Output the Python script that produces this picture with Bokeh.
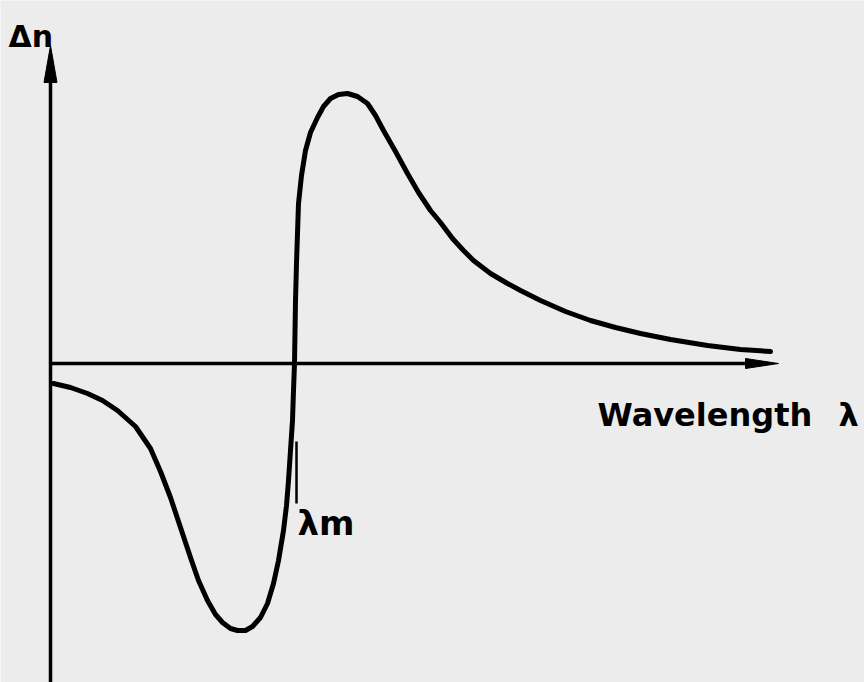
from bokeh.plotting import figure
from bokeh.models import Range1d
from bokeh.core.properties import value
from bokeh.embed import file_html
from bokeh.resources import INLINE

# Dispersion curve: refractive-index change vs wavelength (arbitrary units)
wavelength = [0.3, 2.0, 3.7, 5.2, 6.7, 8.5, 10.0, 11.0, 12.0, 13.0,
              14.0, 14.8, 15.7, 16.5, 17.2, 18.0, 18.7, 19.5, 20.2, 21.0,
              21.7, 22.3, 22.8, 23.3, 23.6, 23.8, 24.0, 24.2, 24.3, 24.4,
              24.5, 24.6, 24.8, 25.1, 25.5, 26.0, 26.7, 27.3, 28.0, 28.8,
              29.7, 30.7, 31.7, 32.5, 33.3, 34.5, 35.7, 36.8, 38.0, 39.0,
              40.2, 41.3, 42.3, 44.0, 45.7, 47.0, 49.0, 51.5, 54.0, 56.5,
              59.0, 62.0, 65.7, 69.0, 72.0]
delta_n = [-2.0, -2.4, -3.0, -3.7, -4.7, -6.3, -8.5, -10.8, -13.4, -16.4,
           -19.4, -21.7, -23.7, -25.1, -25.9, -26.5, -26.7, -26.7, -26.3, -25.4,
           -24.0, -22.0, -19.7, -16.7, -14.2, -11.7, -8.7, -5.7, -2.7, 0.0,
           6.3, 10.0, 16.0, 18.8, 21.3, 23.1, 24.6, 25.7, 26.5, 26.9,
           27.0, 26.7, 26.0, 24.8, 23.3, 21.2, 19.0, 17.1, 15.3, 14.1,
           12.5, 11.3, 10.3, 9.0, 8.0, 7.3, 6.3, 5.2, 4.3, 3.6,
           3.0, 2.4, 1.8, 1.4, 1.2]

lambda_m = 24.6          # marked wavelength
lambda_m_tick = [-7.8, -14.0]
x_axis_end = 72.8
y_axis_top = 31.8
y_axis_bottom = -33.0

BG = "#ececec"
FONT = value("DejaVu Sans")

p = figure(width=864, height=682,
           x_range=Range1d(-5.0, 81.4), y_range=Range1d(-31.9, 36.3),
           output_backend="svg", toolbar_location=None, min_border=0)
p.axis.visible = False
p.grid.visible = False
p.outline_line_color = None
p.background_fill_color = BG
p.border_fill_color = BG

# axes (hand-drawn style with arrow heads)
x_head_len, x_head_half = 3.3, 0.5
y_head_len, y_head_half = 3.7, 0.65
p.line([0, x_axis_end - x_head_len], [0, 0], line_color="black", line_width=3.5)
p.line([0, 0], [y_axis_bottom, y_axis_top - y_head_len], line_color="black", line_width=3.5)
p.patch([x_axis_end, x_axis_end - x_head_len, x_axis_end - x_head_len],
        [0, x_head_half, -x_head_half], color="black")
p.patch([0, y_head_half, -y_head_half],
        [y_axis_top, y_axis_top - y_head_len, y_axis_top - y_head_len], color="black")

# curve
p.line(wavelength, delta_n, line_color="black", line_width=5,
       line_join="round", line_cap="round")

# lambda_m marker
p.line([lambda_m, lambda_m], lambda_m_tick, line_color="black", line_width=2.5)

# labels
p.text(x=[-4.2], y=[32.7], text=["Δn"], text_font=FONT, text_font_style="bold",
       text_font_size="30px", text_baseline="alphabetic", text_align="left",
       text_color="black")
p.text(x=[54.7], y=[-5.1], text=["Wavelength"], text_font=FONT, text_font_style="bold",
       text_font_size="32px", text_baseline="alphabetic", text_align="left",
       text_color="black")
p.text(x=[78.8], y=[-5.1], text=["λ"], text_font=FONT, text_font_style="bold",
       text_font_size="32px", text_baseline="alphabetic", text_align="left",
       text_color="black")
p.text(x=[24.7], y=[-15.9], text=["λm"], text_font=FONT, text_font_style="bold",
       text_font_size="34px", text_baseline="alphabetic", text_align="left",
       text_color="black")

html = file_html(p, INLINE)
html = html.replace("<body>", '<body style="margin:0;background:%s;overflow:hidden">' % BG, 1)
open("out.html", "w").write(html)
